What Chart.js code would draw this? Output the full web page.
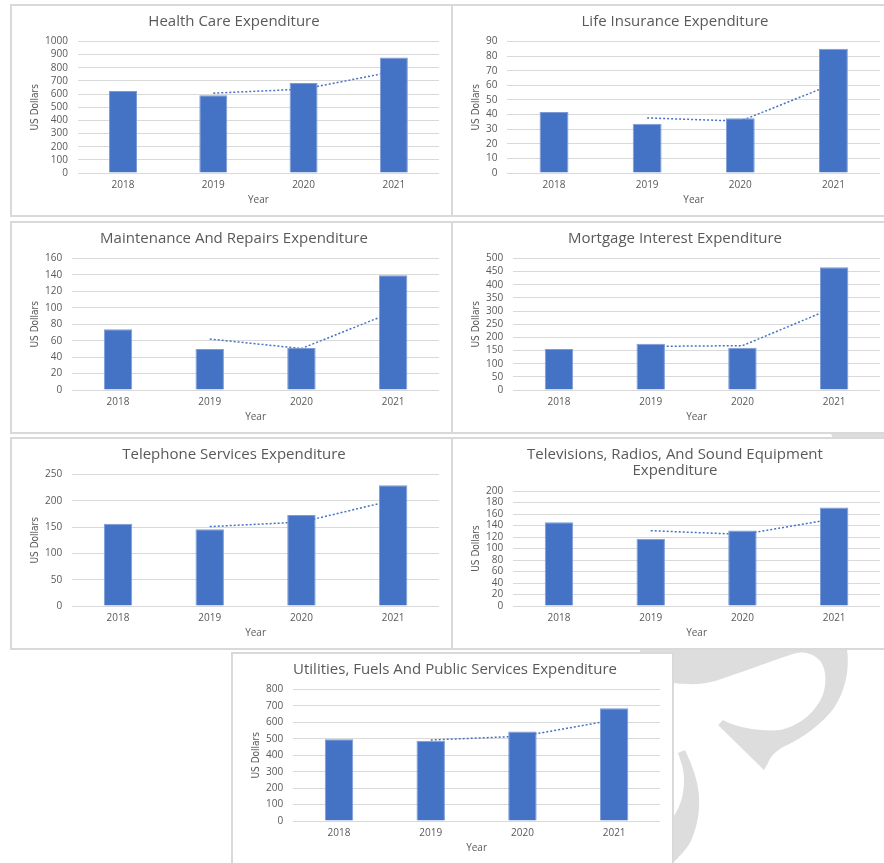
<!DOCTYPE html>
<html>
<head>
<meta charset="utf-8">
<script src="https://cdn.jsdelivr.net/npm/chart.js@4.4.0/dist/chart.umd.min.js"></script>
<style>
  html, body { margin: 0; padding: 0; background: #fff; }
  body { width: 884px; height: 863px; position: relative; overflow: hidden; }
  .box { position: absolute; width: 439px; height: 209px; border: 2px solid #d9d9d9; background: #fff; z-index: 1; }
  .box canvas { display: block; }
  #watermark { position: absolute; left: 0; top: 0; z-index: 0; }
</style>
</head>
<body>
<svg id="watermark" width="884" height="863">
  <path fill="#dddddd" d="M640,649 L847,649 C850,670 845,695 830,713 C815,730 795,742 783,747 C774,752 770,758 768,763 L764,770 L718,725 L723,720 C735,727 760,732 780,730 C800,726 815,712 822,697 C828,682 826,664 817,658 C810,652 800,652 797,653 C785,656 770,662 727,677 C710,683 700,686 673,683 L640,680 Z"/>
  <path fill="#dddddd" d="M678,753 L685,750 C692,765 698,780 699,797 C700,812 697,828 690,843 C684,852 678,858 673,863 L660,873 L673,817 C680,808 684,795 684,780 C684,772 683,767 678,753 Z"/>
  <path fill="#dddddd" d="M830,432 L884,426 L884,440 L834,440 Z"/>
</svg>

<div class="box" style="left:10px; top:4px;"><canvas id="c1" width="439" height="209"></canvas></div>
<div class="box" style="left:451px; top:4px;"><canvas id="c2" width="439" height="209"></canvas></div>
<div class="box" style="left:10px; top:221px;"><canvas id="c3" width="439" height="209"></canvas></div>
<div class="box" style="left:451px; top:221px;"><canvas id="c4" width="439" height="209"></canvas></div>
<div class="box" style="left:10px; top:437px;"><canvas id="c5" width="439" height="209"></canvas></div>
<div class="box" style="left:451px; top:437px;"><canvas id="c6" width="439" height="209"></canvas></div>
<div class="box" style="left:231px; top:652px;"><canvas id="c7" width="439" height="209"></canvas></div>

<script>
// Category labels
const years = ['2018', '2019', '2020', '2021'];

// Bar values (US Dollars)
const healthCare = [623, 592, 684, 878];
const lifeInsurance = [41.7, 33.7, 37.4, 85];
const maintenance = [74, 49.8, 51, 139.7];
const mortgage = [156, 176, 161, 467];
const telephone = [156.5, 146, 173, 229.5];
const televisions = [145.5, 117, 131.5, 171.5];
const utilities = [498, 488, 544, 686];

// Dotted trend lines (2-period moving average as shown)
const healthCareTrend = [null, 607, 638, 772];
const lifeInsuranceTrend = [null, 37.7, 35.5, 61];
const maintenanceTrend = [null, 62, 50.5, 95];
const mortgageTrend = [null, 166, 168.5, 314];
const telephoneTrend = [null, 151, 159.5, 201];
const televisionsTrend = [null, 131, 124.5, 151.5];
const utilitiesTrend = [null, 493, 516, 615];

// Y axis ranges: [max, step]
const healthCareAxis = [1000, 100];
const lifeInsuranceAxis = [90, 10];
const maintenanceAxis = [160, 20];
const mortgageAxis = [500, 50];
const telephoneAxis = [250, 50];
const televisionsAxis = [200, 20];
const utilitiesAxis = [800, 100];

const textColor = '#595959';
const barColor = '#4472C4';
const gridColor = '#d9d9d9';
const tickFont = { family: 'Open Sans', size: 10 };
const narrowFont = { family: '"Liberation Sans Narrow", "DejaVu Sans Condensed", sans-serif', size: 10 };

function makeChart(id, title, values, trend, axis) {
    const ctx = document.getElementById(id).getContext('2d');
    return new Chart(ctx, {
        data: {
            labels: years,
            datasets: [{
                type: 'bar',
                data: values,
                backgroundColor: barColor,
                borderColor: '#7d9cd6',
                borderWidth: 1,
                barPercentage: 0.31,
                categoryPercentage: 1,
                order: 1
            }, {
                type: 'line',
                data: trend,
                borderColor: barColor,
                borderWidth: 1.5,
                borderDash: [2, 2],
                pointRadius: 0,
                fill: false,
                tension: 0,
                order: 2
            }]
        },
        options: {
            responsive: false,
            animation: false,
            layout: { padding: { top: 7, left: 17, right: 12, bottom: 9 } },
            plugins: {
                legend: { display: false },
                tooltip: { enabled: false },
                title: {
                    display: true,
                    text: title,
                    color: textColor,
                    font: { family: 'Open Sans', size: 15, weight: 'normal', lineHeight: 1.1 },
                    padding: { top: 0, bottom: 12 }
                }
            },
            scales: {
                x: {
                    grid: { display: false, drawTicks: false },
                    border: { display: false },
                    ticks: { color: textColor, font: tickFont, padding: 6 },
                    title: { display: true, text: 'Year', color: textColor, font: tickFont, padding: { top: 0, bottom: 0 } },
                    afterFit: (scale) => { scale.height = 33; }
                },
                y: {
                    min: 0,
                    max: axis[0],
                    ticks: {
                        stepSize: axis[1],
                        autoSkip: false,
                        color: textColor,
                        font: tickFont,
                        padding: 10,
                        callback: (v) => String(v)
                    },
                    grid: { color: gridColor, drawTicks: false, lineWidth: 1 },
                    border: { display: false },
                    title: { display: true, text: 'US Dollars', color: textColor, font: narrowFont, padding: { top: 0, bottom: 4 } },
                    afterFit: (scale) => { scale.width -= 10; }
                }
            }
        }
    });
}

makeChart('c1', 'Health Care Expenditure', healthCare, healthCareTrend, healthCareAxis);
makeChart('c2', 'Life Insurance Expenditure', lifeInsurance, lifeInsuranceTrend, lifeInsuranceAxis);
makeChart('c3', 'Maintenance And Repairs Expenditure', maintenance, maintenanceTrend, maintenanceAxis);
makeChart('c4', 'Mortgage Interest Expenditure', mortgage, mortgageTrend, mortgageAxis);
makeChart('c5', 'Telephone Services Expenditure', telephone, telephoneTrend, telephoneAxis);
makeChart('c6', ['Televisions, Radios, And Sound Equipment', 'Expenditure'], televisions, televisionsTrend, televisionsAxis);
makeChart('c7', 'Utilities, Fuels And Public Services Expenditure', utilities, utilitiesTrend, utilitiesAxis);
</script>
</body>
</html>
